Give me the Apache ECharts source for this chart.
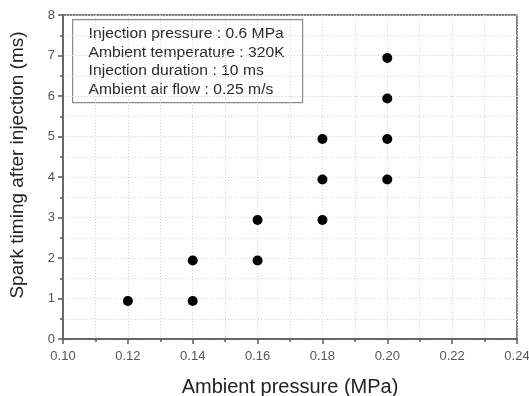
<!DOCTYPE html>
<html>
<head>
<meta charset="utf-8">
<script src="https://cdn.jsdelivr.net/npm/echarts@6/dist/echarts.min.js"></script>
<style>html,body{margin:0;padding:0;background:#fff;}#c{width:529px;height:396px;}</style>
</head>
<body>
<div id="c"></div>
<script>
const pressure = [0.12, 0.14, 0.14, 0.16, 0.16, 0.18, 0.18, 0.18, 0.20, 0.20, 0.20, 0.20];
const sparkTiming = [0.94, 0.94, 1.94, 1.94, 2.94, 2.94, 3.94, 4.94, 3.94, 4.94, 5.94, 6.94];
const legendLines = [
  'Injection pressure : 0.6 MPa',
  'Ambient temperature : 320K',
  'Injection duration : 10 ms',
  'Ambient air flow : 0.25 m/s'
];
const xTitle = 'Ambient pressure (MPa)';
const yTitle = 'Spark timing after injection (ms)';

const chart = echarts.init(document.getElementById('c'), null, {renderer: 'canvas'});
const data = pressure.map((p, i) => [p, sparkTiming[i]]);
const font = 'Arial, "Liberation Sans", sans-serif';
const dotted = {color: '#d0d0d0', type: [1, 2], width: 1};
const axisCol = '#5a5a5a';

chart.setOption({
  animation: false,
  backgroundColor: '#fff',
  grid: {left: 63, right: 12, top: 15, bottom: 57, outerBoundsMode: 'none', containLabel: false,
         show: true, borderColor: axisCol, borderWidth: 1.5, backgroundColor: 'transparent'},
  xAxis: {
    type: 'value', min: 0.10, max: 0.24, interval: 0.02,
    name: xTitle, nameLocation: 'middle', nameGap: 38,
    nameTextStyle: {fontFamily: font, fontSize: 20, color: '#222'},
    axisLine: {show: true, lineStyle: {color: axisCol, width: 1.5}},
    axisTick: {show: true, inside: false, length: 5, lineStyle: {color: axisCol, width: 1.5}},
    minorTick: {show: true, splitNumber: 2, length: 3, lineStyle: {color: axisCol, width: 1.5}},
    axisLabel: {fontFamily: font, fontSize: 13, color: '#555', margin: 11, formatter: v => v.toFixed(2)},
    splitLine: {show: true, lineStyle: dotted},
    minorSplitLine: {show: true, lineStyle: dotted}
  },
  yAxis: {
    type: 'value', min: 0, max: 8, interval: 1,
    name: yTitle, nameLocation: 'middle', nameGap: 36,
    nameTextStyle: {fontFamily: font, fontSize: 19, color: '#222', padding: [0, 0, 0, 24]},
    axisLine: {show: true, lineStyle: {color: axisCol, width: 1.5}},
    axisTick: {show: true, inside: false, length: 5, lineStyle: {color: axisCol, width: 1.5}},
    minorTick: {show: true, splitNumber: 2, length: 3, lineStyle: {color: axisCol, width: 1.5}},
    axisLabel: {fontFamily: font, fontSize: 13, color: '#555', margin: 8},
    splitLine: {show: true, lineStyle: dotted},
    minorSplitLine: {show: true, lineStyle: dotted}
  },
  series: [{
    type: 'scatter',
    data: data,
    symbol: 'circle',
    symbolSize: 10,
    itemStyle: {color: '#000', opacity: 1}
  }],
  graphic: [{
    type: 'group', left: 72, top: 19,
    children: [
      {type: 'rect', shape: {x: 0, y: 0, width: 230, height: 83}, style: {fill: '#fff', stroke: '#8a8a8a', lineWidth: 1.2}},
      ...legendLines.map((t, i) => ({
        type: 'text', x: 16, y: 15 + i * 18.5, scaleX: 1.12,
        style: {text: t, fontFamily: font, fontSize: 14, fill: '#2a2a2a', verticalAlign: 'middle'}
      }))
    ]
  }]
});
</script>
</body>
</html>
